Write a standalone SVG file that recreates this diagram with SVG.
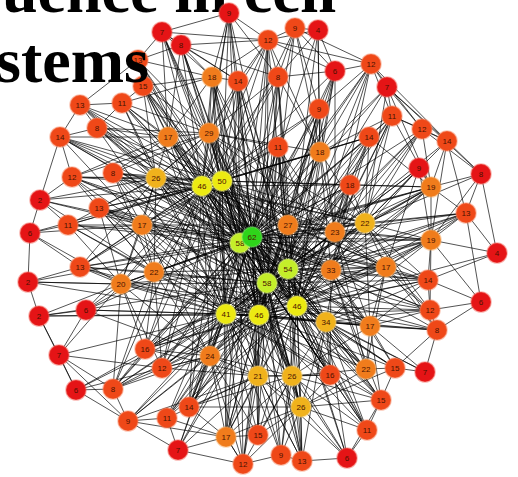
<svg xmlns="http://www.w3.org/2000/svg" width="518" height="477" viewBox="0 0 518 477">
<style>
.e path{fill:none;stroke:#000;stroke-width:.85;stroke-opacity:.8;stroke-linecap:round}
.n circle{r:10px;stroke-width:1.6;stroke-opacity:.45}
.r circle{fill:#e51416;stroke:#f25a50}
.o circle{fill:#ef4818;stroke:#f7805a}
.a circle{fill:#f07c1c;stroke:#f8aa60}
.g circle{fill:#f0b21c;stroke:#f8d070}
.y circle{fill:#ecea12;stroke:#f8f870}
.v circle{fill:#c4ee2a;stroke:#e0f880}
.w circle{fill:#2ed41a;stroke:#80ee70}
.n text{font-family:"Liberation Sans",Arial,sans-serif;font-size:8px;text-anchor:middle;fill:#4a1200}
.t{font-family:"Liberation Serif","Times New Roman",serif;font-weight:bold;font-size:64px;fill:#000}
</style>
<rect width="518" height="477" fill="#fff"/>
<text class="t" id="title1" x="2" y="12">uence in cell</text>
<g class="e" id="connectors">
<path d="M252 237L229 13M252 237L162 32M252 237L181 45M252 237L268 40M252 237L295 28M252 237L318 30M252 237L138 60M252 237L143 86M252 237L80 105M252 237L122 103M252 237L212 77M252 237L238 81M252 237L278 77M252 237L335 71M252 237L371 64M252 237L387 87M252 237L392 116M252 237L319 109M252 237L60 137M252 237L97 128M252 237L168 137M252 237L72 177M252 237L113 173M252 237L156 178M252 237L99 208M252 237L68 225M252 237L142 225M252 237L209 133M252 237L278 147M252 237L320 152M252 237L288 225M252 237L335 232M252 237L369 137M252 237L422 129M252 237L350 185M252 237L431 187M252 237L365 223M252 237L466 213M252 237L431 240M252 237L80 267M252 237L121 284M252 237L154 272M252 237L145 349M252 237L331 270M252 237L326 322M252 237L210 356M252 237L386 267M252 237L428 280M252 237L430 310M252 237L370 326M252 237L162 368M252 237L113 389M252 237L189 407M252 237L226 437M252 237L258 435M252 237L258 376M252 237L292 376M252 237L330 375M252 237L366 369M252 237L301 407M252 237L381 400M252 237L367 430M252 237L302 461"/>
<path d="M240 243L229 13M240 243L162 32M240 243L268 40M240 243L138 60M240 243L143 86M240 243L80 105M240 243L122 103M240 243L212 77M240 243L238 81M240 243L278 77M240 243L371 64M240 243L319 109M240 243L60 137M240 243L97 128M240 243L168 137M240 243L72 177M240 243L113 173M240 243L156 178M240 243L40 200M240 243L99 208M240 243L68 225M240 243L142 225M240 243L209 133M240 243L278 147M240 243L320 152M240 243L288 225M240 243L335 232M240 243L369 137M240 243L350 185M240 243L431 187M240 243L365 223M240 243L431 240M240 243L80 267M240 243L28 282M240 243L121 284M240 243L154 272M240 243L86 310M240 243L145 349M240 243L331 270M240 243L326 322M240 243L210 356M240 243L386 267M240 243L428 280M240 243L370 326M240 243L162 368M240 243L113 389M240 243L167 418M240 243L189 407M240 243L226 437M240 243L258 376M240 243L292 376M240 243L330 375M240 243L366 369M240 243L301 407M240 243L367 430M240 243L243 464"/>
<path d="M267 283L181 45M267 283L268 40M267 283L295 28M267 283L212 77M267 283L238 81M267 283L278 77M267 283L335 71M267 283L387 87M267 283L392 116M267 283L319 109M267 283L97 128M267 283L168 137M267 283L113 173M267 283L156 178M267 283L99 208M267 283L142 225M267 283L209 133M267 283L278 147M267 283L320 152M267 283L288 225M267 283L335 232M267 283L369 137M267 283L422 129M267 283L419 168M267 283L350 185M267 283L431 187M267 283L365 223M267 283L466 213M267 283L431 240M267 283L80 267M267 283L121 284M267 283L154 272M267 283L39 316M267 283L145 349M267 283L331 270M267 283L326 322M267 283L210 356M267 283L386 267M267 283L428 280M267 283L430 310M267 283L437 330M267 283L370 326M267 283L162 368M267 283L76 390M267 283L113 389M267 283L128 421M267 283L167 418M267 283L189 407M267 283L178 450M267 283L226 437M267 283L258 435M267 283L243 464M267 283L258 376M267 283L292 376M267 283L330 375M267 283L366 369M267 283L395 368M267 283L301 407M267 283L381 400M267 283L367 430M267 283L281 455M267 283L302 461"/>
<path d="M288 269L229 13M288 269L268 40M288 269L318 30M288 269L143 86M288 269L212 77M288 269L238 81M288 269L278 77M288 269L335 71M288 269L371 64M288 269L392 116M288 269L319 109M288 269L60 137M288 269L168 137M288 269L72 177M288 269L156 178M288 269L99 208M288 269L142 225M288 269L209 133M288 269L278 147M288 269L320 152M288 269L288 225M288 269L335 232M288 269L369 137M288 269L422 129M288 269L447 141M288 269L350 185M288 269L431 187M288 269L365 223M288 269L466 213M288 269L431 240M288 269L121 284M288 269L154 272M288 269L145 349M288 269L331 270M288 269L326 322M288 269L210 356M288 269L386 267M288 269L428 280M288 269L430 310M288 269L370 326M288 269L162 368M288 269L189 407M288 269L226 437M288 269L258 376M288 269L292 376M288 269L330 375M288 269L366 369M288 269L301 407M288 269L381 400M288 269L367 430M288 269L302 461M288 269L347 458"/>
<path d="M222 181L229 13M222 181L162 32M222 181L181 45M222 181L268 40M222 181L295 28M222 181L138 60M222 181L143 86M222 181L80 105M222 181L122 103M222 181L212 77M222 181L238 81M222 181L278 77M222 181L335 71M222 181L319 109M222 181L60 137M222 181L97 128M222 181L168 137M222 181L72 177M222 181L113 173M222 181L156 178M222 181L99 208M222 181L68 225M222 181L142 225M222 181L209 133M222 181L278 147M222 181L320 152M222 181L288 225M222 181L335 232M222 181L369 137M222 181L350 185M222 181L365 223M222 181L431 187M222 181L80 267M222 181L121 284M222 181L154 272M222 181L331 270M222 181L326 322M222 181L210 356M222 181L386 267M222 181L370 326M222 181L145 349M222 181L162 368M222 181L258 376M222 181L292 376M222 181L330 375M222 181L301 407M222 181L189 407M222 181L226 437"/>
<path d="M202 186L162 32M202 186L181 45M202 186L229 13M202 186L268 40M202 186L138 60M202 186L143 86M202 186L80 105M202 186L122 103M202 186L212 77M202 186L238 81M202 186L278 77M202 186L319 109M202 186L60 137M202 186L97 128M202 186L168 137M202 186L72 177M202 186L113 173M202 186L156 178M202 186L40 200M202 186L99 208M202 186L68 225M202 186L142 225M202 186L30 233M202 186L209 133M202 186L278 147M202 186L320 152M202 186L288 225M202 186L335 232M202 186L350 185M202 186L365 223M202 186L80 267M202 186L121 284M202 186L154 272M202 186L86 310M202 186L331 270M202 186L326 322M202 186L210 356M202 186L145 349M202 186L162 368M202 186L113 389M202 186L258 376M202 186L292 376M202 186L330 375M202 186L189 407M202 186L386 267M202 186L369 137"/>
<path d="M259 315L212 77M259 315L238 81M259 315L268 40M259 315L278 77M259 315L319 109M259 315L143 86M259 315L168 137M259 315L156 178M259 315L113 173M259 315L99 208M259 315L142 225M259 315L209 133M259 315L278 147M259 315L320 152M259 315L288 225M259 315L335 232M259 315L350 185M259 315L365 223M259 315L431 240M259 315L431 187M259 315L80 267M259 315L121 284M259 315L154 272M259 315L86 310M259 315L39 316M259 315L145 349M259 315L331 270M259 315L326 322M259 315L210 356M259 315L386 267M259 315L428 280M259 315L430 310M259 315L437 330M259 315L370 326M259 315L162 368M259 315L113 389M259 315L128 421M259 315L167 418M259 315L189 407M259 315L178 450M259 315L226 437M259 315L258 435M259 315L243 464M259 315L258 376M259 315L292 376M259 315L330 375M259 315L366 369M259 315L395 368M259 315L301 407M259 315L381 400M259 315L367 430M259 315L281 455M259 315L302 461M259 315L347 458"/>
<path d="M297 306L238 81M297 306L278 77M297 306L319 109M297 306L335 71M297 306L371 64M297 306L392 116M297 306L168 137M297 306L156 178M297 306L142 225M297 306L209 133M297 306L278 147M297 306L320 152M297 306L288 225M297 306L335 232M297 306L369 137M297 306L422 129M297 306L419 168M297 306L350 185M297 306L431 187M297 306L365 223M297 306L466 213M297 306L431 240M297 306L497 253M297 306L121 284M297 306L154 272M297 306L145 349M297 306L331 270M297 306L326 322M297 306L210 356M297 306L386 267M297 306L428 280M297 306L430 310M297 306L437 330M297 306L370 326M297 306L162 368M297 306L189 407M297 306L167 418M297 306L226 437M297 306L258 435M297 306L258 376M297 306L292 376M297 306L330 375M297 306L366 369M297 306L395 368M297 306L425 372M297 306L301 407M297 306L381 400M297 306L367 430M297 306L281 455M297 306L302 461M297 306L347 458"/>
<path d="M226 314L143 86M226 314L212 77M226 314L238 81M226 314L122 103M226 314L97 128M226 314L168 137M226 314L72 177M226 314L113 173M226 314L156 178M226 314L99 208M226 314L68 225M226 314L142 225M226 314L209 133M226 314L278 147M226 314L288 225M226 314L335 232M226 314L350 185M226 314L365 223M226 314L80 267M226 314L28 282M226 314L121 284M226 314L154 272M226 314L39 316M226 314L86 310M226 314L59 355M226 314L145 349M226 314L331 270M226 314L326 322M226 314L210 356M226 314L386 267M226 314L370 326M226 314L162 368M226 314L76 390M226 314L113 389M226 314L128 421M226 314L167 418M226 314L189 407M226 314L178 450M226 314L226 437M226 314L258 435M226 314L243 464M226 314L258 376M226 314L292 376M226 314L330 375M226 314L366 369M226 314L301 407M226 314L381 400M226 314L281 455M226 314L302 461"/>
<path d="M252 237L240 243M252 237L267 283M252 237L288 269M252 237L222 181M252 237L202 186M252 237L259 315M252 237L297 306M252 237L226 314M240 243L267 283M240 243L288 269M240 243L222 181M240 243L202 186M240 243L259 315M240 243L297 306M240 243L226 314M267 283L288 269M267 283L222 181M267 283L202 186M267 283L259 315M267 283L297 306M267 283L226 314M288 269L222 181M288 269L202 186M288 269L259 315M288 269L297 306M288 269L226 314M222 181L202 186M222 181L259 315M222 181L297 306M222 181L226 314M202 186L259 315M202 186L297 306M202 186L226 314M259 315L297 306M259 315L226 314M297 306L226 314"/>
<path d="M156 178L60 137M156 178L97 128M156 178L72 177M156 178L113 173M156 178L40 200M156 178L99 208M156 178L68 225M156 178L142 225M156 178L80 267M156 178L121 284M156 178L154 272M156 178L168 137M156 178L209 133M156 178L122 103M156 178L143 86M156 178L80 105M156 178L288 225M156 178L365 223M156 178L331 270"/>
<path d="M209 133L162 32M209 133L181 45M209 133L229 13M209 133L268 40M209 133L138 60M209 133L143 86M209 133L122 103M209 133L212 77M209 133L238 81M209 133L278 77M209 133L97 128M209 133L168 137M209 133L113 173M209 133L156 178M209 133L278 147M209 133L320 152M209 133L335 232M209 133L365 223M209 133L288 225M209 133L142 225M209 133L72 177"/>
<path d="M288 225L278 147M288 225L320 152M288 225L350 185M288 225L369 137M288 225L319 109M288 225L335 232M288 225L365 223M288 225L431 187M288 225L431 240M288 225L386 267M288 225L331 270M288 225L326 322M288 225L370 326M288 225L212 77M288 225L238 81M288 225L278 77M288 225L142 225"/>
<path d="M335 232L319 109M335 232L335 71M335 232L371 64M335 232L392 116M335 232L369 137M335 232L422 129M335 232L350 185M335 232L419 168M335 232L431 187M335 232L466 213M335 232L431 240M335 232L386 267M335 232L428 280M335 232L430 310M335 232L370 326M335 232L366 369M335 232L278 147M335 232L320 152"/>
<path d="M365 223L369 137M365 223L392 116M365 223L422 129M365 223L447 141M365 223L419 168M365 223L431 187M365 223L466 213M365 223L431 240M365 223L481 174M365 223L386 267M365 223L428 280M365 223L430 310M365 223L437 330M365 223L370 326M365 223L331 270M365 223L350 185M365 223L320 152M365 223L387 87"/>
<path d="M331 270L320 152M331 270L350 185M331 270L369 137M331 270L431 187M331 270L431 240M331 270L466 213M331 270L386 267M331 270L428 280M331 270L430 310M331 270L437 330M331 270L370 326M331 270L366 369M331 270L395 368M331 270L330 375M331 270L381 400M331 270L278 147M331 270L392 116"/>
<path d="M326 322L370 326M326 322L366 369M326 322L395 368M326 322L425 372M326 322L330 375M326 322L381 400M326 322L367 430M326 322L428 280M326 322L430 310M326 322L437 330M326 322L386 267M326 322L431 240M326 322L292 376M326 322L301 407M326 322L347 458M326 322L302 461M326 322L350 185"/>
<path d="M210 356L145 349M210 356L162 368M210 356L113 389M210 356L128 421M210 356L167 418M210 356L189 407M210 356L178 450M210 356L226 437M210 356L258 435M210 356L243 464M210 356L258 376M210 356L154 272M210 356L121 284M210 356L86 310M210 356L76 390M210 356L292 376M210 356L142 225"/>
<path d="M258 376L189 407M258 376L167 418M258 376L226 437M258 376L258 435M258 376L243 464M258 376L281 455M258 376L302 461M258 376L301 407M258 376L292 376M258 376L162 368M258 376L145 349M258 376L178 450M258 376L128 421M258 376L330 375M258 376L347 458"/>
<path d="M292 376L258 435M292 376L243 464M292 376L281 455M292 376L302 461M292 376L301 407M292 376L330 375M292 376L366 369M292 376L347 458M292 376L367 430M292 376L381 400M292 376L226 437M292 376L189 407M292 376L370 326"/>
<path d="M301 407L258 435M301 407L243 464M301 407L281 455M301 407L302 461M301 407L347 458M301 407L367 430M301 407L381 400M301 407L330 375M301 407L366 369M301 407L226 437M301 407L189 407M301 407L395 368"/>
<path d="M121 284L80 267M121 284L28 282M121 284L39 316M121 284L86 310M121 284L59 355M121 284L145 349M121 284L154 272M121 284L99 208M121 284L68 225M121 284L142 225M121 284L30 233M121 284L162 368M121 284L113 389"/>
<path d="M154 272L80 267M154 272L99 208M154 272L68 225M154 272L142 225M154 272L113 173M154 272L145 349M154 272L86 310M154 272L162 368M154 272L113 389M154 272L72 177M154 272L40 200"/>
<path d="M168 137L97 128M168 137L122 103M168 137L143 86M168 137L80 105M168 137L60 137M168 137L72 177M168 137L113 173M168 137L212 77M168 137L181 45M168 137L162 32M142 225L72 177M142 225L99 208M142 225L68 225M142 225L113 173M142 225L40 200M142 225L30 233M142 225L80 267M142 225L60 137"/>
<path d="M320 152L319 109M320 152L335 71M320 152L371 64M320 152L387 87M320 152L392 116M320 152L369 137M320 152L278 77M320 152L268 40M320 152L295 28M320 152L318 30M431 187L422 129M431 187L447 141M431 187L419 168M431 187L481 174M431 187L466 213M431 187L431 240M431 187L392 116M431 187L387 87M431 187L369 137M431 187L350 185"/>
<path d="M431 240L466 213M431 240L481 174M431 240L497 253M431 240L428 280M431 240L430 310M431 240L481 302M431 240L419 168M431 240L447 141M431 240L386 267M386 267L428 280M386 267L430 310M386 267L437 330M386 267L466 213M386 267L419 168M386 267L370 326M386 267L366 369M370 326L430 310M370 326L437 330M370 326L395 368M370 326L425 372M370 326L366 369M370 326L381 400M370 326L428 280"/>
<path d="M226 437L178 450M226 437L243 464M226 437L258 435M226 437L189 407M226 437L167 418M226 437L128 421M212 77L229 13M212 77L181 45M212 77L162 32M212 77L268 40M212 77L238 81M212 77L138 60M212 77L143 86M212 77L122 103"/>
<path d="M229 13L268 40M229 13L238 81M229 13L162 32M229 13L278 77M268 40L295 28M268 40L318 30M268 40L335 71M268 40L371 64M268 40L278 77M268 40L238 81M268 40L162 32M268 40L181 45M295 28L318 30M295 28L278 77M295 28L335 71M295 28L319 109M318 30L278 77M318 30L335 71M318 30L319 109M335 71L371 64M335 71L278 77M335 71L319 109M371 64L387 87M371 64L392 116M371 64L422 129M371 64L447 141M371 64L319 109M371 64L295 28M387 87L392 116M387 87L422 129M387 87L447 141M387 87L481 174M392 116L422 129M392 116L369 137M392 116L447 141M422 129L447 141M422 129L481 174M447 141L481 174M447 141L466 213M481 174L466 213M481 174L497 253M466 213L497 253M466 213L481 302M497 253L428 280M428 280L481 302M428 280L430 310M481 302L430 310M481 302L437 330M430 310L437 330M437 330L425 372M437 330L395 368M425 372L395 368M395 368L366 369M395 368L381 400M381 400L367 430M381 400L347 458M367 430L347 458M347 458L302 461M302 461L281 455M281 455L243 464M243 464L178 450M243 464L226 437M178 450L167 418M178 450L128 421M128 421L113 389M128 421L76 390M128 421L59 355M128 421L167 418M113 389L59 355M113 389L76 390M113 389L145 349M113 389L162 368M76 390L59 355M76 390L39 316M59 355L39 316M59 355L86 310M59 355L162 368M39 316L28 282M39 316L86 310M28 282L30 233M28 282L80 267M28 282L121 284M30 233L40 200M30 233L68 225M30 233L80 267M40 200L72 177M40 200L60 137M40 200L68 225M60 137L80 105M60 137L97 128M60 137L72 177M80 105L122 103M80 105L138 60M80 105L97 128M122 103L143 86M122 103L97 128M138 60L143 86M138 60L162 32M138 60L181 45M162 32L181 45M162 32L238 81M181 45L238 81M181 45L278 77"/>
</g>
<g id="n1" class="n r"><circle cx="229" cy="13"/><text x="229" y="16">9</text></g>
<g id="n2" class="n r"><circle cx="162" cy="32"/><text x="162" y="35">7</text></g>
<g id="n3" class="n r"><circle cx="181" cy="45"/><text x="181" y="48">8</text></g>
<g id="n4" class="n o"><circle cx="268" cy="40"/><text x="268" y="43">12</text></g>
<g id="n5" class="n o"><circle cx="295" cy="28"/><text x="295" y="31">9</text></g>
<g id="n6" class="n r"><circle cx="318" cy="30"/><text x="318" y="33">4</text></g>
<g id="n7" class="n o"><circle cx="138" cy="60"/><text x="138" y="63">13</text></g>
<g id="n8" class="n o"><circle cx="143" cy="86"/><text x="143" y="89">15</text></g>
<g id="n9" class="n o"><circle cx="80" cy="105"/><text x="80" y="108">13</text></g>
<g id="n10" class="n o"><circle cx="122" cy="103"/><text x="122" y="106">11</text></g>
<g id="n11" class="n a"><circle cx="212" cy="77"/><text x="212" y="80">18</text></g>
<g id="n12" class="n o"><circle cx="238" cy="81"/><text x="238" y="84">14</text></g>
<g id="n13" class="n o"><circle cx="278" cy="77"/><text x="278" y="80">8</text></g>
<g id="n14" class="n r"><circle cx="335" cy="71"/><text x="335" y="74">6</text></g>
<g id="n15" class="n o"><circle cx="371" cy="64"/><text x="371" y="67">12</text></g>
<g id="n16" class="n r"><circle cx="387" cy="87"/><text x="387" y="90">7</text></g>
<g id="n17" class="n o"><circle cx="392" cy="116"/><text x="392" y="119">11</text></g>
<g id="n18" class="n o"><circle cx="319" cy="109"/><text x="319" y="112">9</text></g>
<g id="n19" class="n o"><circle cx="60" cy="137"/><text x="60" y="140">14</text></g>
<g id="n20" class="n o"><circle cx="97" cy="128"/><text x="97" y="131">8</text></g>
<g id="n21" class="n a"><circle cx="168" cy="137"/><text x="168" y="140">17</text></g>
<g id="n22" class="n o"><circle cx="72" cy="177"/><text x="72" y="180">12</text></g>
<g id="n23" class="n o"><circle cx="113" cy="173"/><text x="113" y="176">8</text></g>
<g id="n24" class="n g"><circle cx="156" cy="178"/><text x="156" y="181">26</text></g>
<g id="n25" class="n r"><circle cx="40" cy="200"/><text x="40" y="203">2</text></g>
<g id="n26" class="n o"><circle cx="99" cy="208"/><text x="99" y="211">13</text></g>
<g id="n27" class="n o"><circle cx="68" cy="225"/><text x="68" y="228">11</text></g>
<g id="n28" class="n a"><circle cx="142" cy="225"/><text x="142" y="228">17</text></g>
<g id="n29" class="n r"><circle cx="30" cy="233"/><text x="30" y="236">6</text></g>
<g id="n30" class="n a"><circle cx="209" cy="133"/><text x="209" y="136">29</text></g>
<g id="n31" class="n o"><circle cx="278" cy="147"/><text x="278" y="150">11</text></g>
<g id="n32" class="n a"><circle cx="320" cy="152"/><text x="320" y="155">18</text></g>
<g id="n33" class="n y"><circle cx="202" cy="186"/><text x="202" y="189">46</text></g>
<g id="n34" class="n y"><circle cx="222" cy="181"/><text x="222" y="184">50</text></g>
<g id="n35" class="n a"><circle cx="288" cy="225"/><text x="288" y="228">27</text></g>
<g id="n36" class="n a"><circle cx="335" cy="232"/><text x="335" y="235">23</text></g>
<g id="n37" class="n o"><circle cx="369" cy="137"/><text x="369" y="140">14</text></g>
<g id="n38" class="n o"><circle cx="422" cy="129"/><text x="422" y="132">12</text></g>
<g id="n39" class="n o"><circle cx="447" cy="141"/><text x="447" y="144">14</text></g>
<g id="n40" class="n r"><circle cx="419" cy="168"/><text x="419" y="171">9</text></g>
<g id="n41" class="n o"><circle cx="350" cy="185"/><text x="350" y="188">18</text></g>
<g id="n42" class="n a"><circle cx="431" cy="187"/><text x="431" y="190">19</text></g>
<g id="n43" class="n r"><circle cx="481" cy="174"/><text x="481" y="177">8</text></g>
<g id="n44" class="n g"><circle cx="365" cy="223"/><text x="365" y="226">22</text></g>
<g id="n45" class="n o"><circle cx="466" cy="213"/><text x="466" y="216">13</text></g>
<g id="n46" class="n a"><circle cx="431" cy="240"/><text x="431" y="243">19</text></g>
<g id="n47" class="n o"><circle cx="80" cy="267"/><text x="80" y="270">13</text></g>
<g id="n48" class="n r"><circle cx="28" cy="282"/><text x="28" y="285">2</text></g>
<g id="n49" class="n a"><circle cx="121" cy="284"/><text x="121" y="287">20</text></g>
<g id="n50" class="n a"><circle cx="154" cy="272"/><text x="154" y="275">22</text></g>
<g id="n51" class="n r"><circle cx="39" cy="316"/><text x="39" y="319">2</text></g>
<g id="n52" class="n r"><circle cx="86" cy="310"/><text x="86" y="313">6</text></g>
<g id="n53" class="n r"><circle cx="59" cy="355"/><text x="59" y="358">7</text></g>
<g id="n54" class="n o"><circle cx="145" cy="349"/><text x="145" y="352">16</text></g>
<g id="n55" class="n v"><circle cx="240" cy="243"/><text x="240" y="246">58</text></g>
<g id="n56" class="n w"><circle cx="252" cy="237"/><text x="252" y="240">62</text></g>
<g id="n57" class="n v"><circle cx="288" cy="269"/><text x="288" y="272">54</text></g>
<g id="n58" class="n a"><circle cx="331" cy="270"/><text x="331" y="273">33</text></g>
<g id="n59" class="n v"><circle cx="267" cy="283"/><text x="267" y="286">58</text></g>
<g id="n60" class="n y"><circle cx="226" cy="314"/><text x="226" y="317">41</text></g>
<g id="n61" class="n y"><circle cx="259" cy="315"/><text x="259" y="318">46</text></g>
<g id="n62" class="n y"><circle cx="297" cy="306"/><text x="297" y="309">46</text></g>
<g id="n63" class="n g"><circle cx="326" cy="322"/><text x="326" y="325">34</text></g>
<g id="n64" class="n a"><circle cx="210" cy="356"/><text x="210" y="359">24</text></g>
<g id="n65" class="n r"><circle cx="497" cy="253"/><text x="497" y="256">4</text></g>
<g id="n66" class="n a"><circle cx="386" cy="267"/><text x="386" y="270">17</text></g>
<g id="n67" class="n o"><circle cx="428" cy="280"/><text x="428" y="283">14</text></g>
<g id="n68" class="n r"><circle cx="481" cy="302"/><text x="481" y="305">6</text></g>
<g id="n69" class="n o"><circle cx="430" cy="310"/><text x="430" y="313">12</text></g>
<g id="n70" class="n o"><circle cx="437" cy="330"/><text x="437" y="333">8</text></g>
<g id="n71" class="n a"><circle cx="370" cy="326"/><text x="370" y="329">17</text></g>
<g id="n72" class="n o"><circle cx="162" cy="368"/><text x="162" y="371">12</text></g>
<g id="n73" class="n r"><circle cx="76" cy="390"/><text x="76" y="393">6</text></g>
<g id="n74" class="n o"><circle cx="113" cy="389"/><text x="113" y="392">8</text></g>
<g id="n75" class="n o"><circle cx="128" cy="421"/><text x="128" y="424">9</text></g>
<g id="n76" class="n o"><circle cx="167" cy="418"/><text x="167" y="421">11</text></g>
<g id="n77" class="n o"><circle cx="189" cy="407"/><text x="189" y="410">14</text></g>
<g id="n78" class="n r"><circle cx="178" cy="450"/><text x="178" y="453">7</text></g>
<g id="n79" class="n a"><circle cx="226" cy="437"/><text x="226" y="440">17</text></g>
<g id="n80" class="n o"><circle cx="258" cy="435"/><text x="258" y="438">15</text></g>
<g id="n81" class="n o"><circle cx="243" cy="464"/><text x="243" y="467">12</text></g>
<g id="n82" class="n g"><circle cx="258" cy="376"/><text x="258" y="379">21</text></g>
<g id="n83" class="n g"><circle cx="292" cy="376"/><text x="292" y="379">26</text></g>
<g id="n84" class="n o"><circle cx="330" cy="375"/><text x="330" y="378">16</text></g>
<g id="n85" class="n a"><circle cx="366" cy="369"/><text x="366" y="372">22</text></g>
<g id="n86" class="n o"><circle cx="395" cy="368"/><text x="395" y="371">15</text></g>
<g id="n87" class="n r"><circle cx="425" cy="372"/><text x="425" y="375">7</text></g>
<g id="n88" class="n g"><circle cx="301" cy="407"/><text x="301" y="410">26</text></g>
<g id="n89" class="n o"><circle cx="381" cy="400"/><text x="381" y="403">15</text></g>
<g id="n90" class="n o"><circle cx="367" cy="430"/><text x="367" y="433">11</text></g>
<g id="n91" class="n o"><circle cx="281" cy="455"/><text x="281" y="458">9</text></g>
<g id="n92" class="n o"><circle cx="302" cy="461"/><text x="302" y="464">13</text></g>
<g id="n93" class="n r"><circle cx="347" cy="458"/><text x="347" y="461">6</text></g>
<text class="t" id="title2" x="-4" y="82">stems</text>
</svg>
